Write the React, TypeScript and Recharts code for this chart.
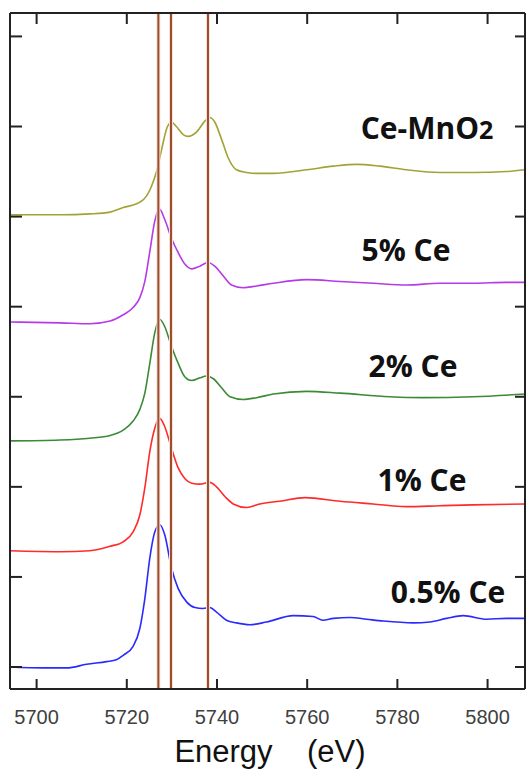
import React from "react";
import { LineChart, Line, XAxis, YAxis, ReferenceLine } from "recharts";

// x axis (eV) and y offsets
const xTicks = [5700, 5720, 5740, 5760, 5780, 5800];
const yTicks = [0, 1, 2, 3, 4, 5, 6, 7];
const peakLines = [5727.0, 5729.8, 5738.0];

// Ce-MnO2
const ceMnO2Energy = [5694.1, 5705.2, 5711.8, 5716.3, 5719.2, 5722.9, 5724.4, 5725.5, 5726.6, 5727.7, 5728.8, 5729.9, 5731.0, 5732.5, 5733.6, 5735.5, 5737.3, 5738.4, 5739.5, 5741.0, 5742.5, 5744.3, 5746.6, 5748.8, 5751.0, 5752.5, 5759.9, 5765.8, 5771.0, 5776.1, 5782.0, 5789.4, 5796.8, 5804.2, 5808.3];
const ceMnO2Signal = [5.02, 5.02, 5.03, 5.05, 5.1, 5.16, 5.23, 5.34, 5.5, 5.74, 5.97, 6.05, 6.0, 5.91, 5.89, 5.94, 6.06, 6.1, 6.05, 5.86, 5.65, 5.52, 5.49, 5.48, 5.48, 5.48, 5.52, 5.56, 5.58, 5.56, 5.52, 5.49, 5.49, 5.5, 5.52];

// 5% Ce
const ce5Energy = [5694.1, 5705.2, 5711.8, 5716.3, 5719.2, 5721.4, 5722.9, 5724.0, 5725.1, 5726.2, 5727.3, 5728.4, 5729.9, 5731.4, 5732.9, 5734.4, 5736.2, 5738.0, 5739.5, 5741.4, 5743.2, 5745.8, 5748.8, 5752.5, 5759.9, 5767.3, 5774.6, 5782.0, 5789.4, 5796.8, 5804.2, 5808.3];
const ce5Signal = [3.83, 3.82, 3.81, 3.84, 3.91, 3.99, 4.1, 4.28, 4.61, 4.95, 5.08, 4.97, 4.76, 4.6, 4.47, 4.42, 4.45, 4.49, 4.45, 4.34, 4.24, 4.21, 4.23, 4.26, 4.3, 4.28, 4.26, 4.24, 4.26, 4.26, 4.27, 4.27];

// 2% Ce
const ce2Energy = [5694.1, 5705.2, 5711.8, 5716.3, 5719.2, 5721.4, 5722.9, 5724.0, 5725.1, 5726.2, 5727.3, 5728.4, 5729.9, 5731.4, 5732.9, 5734.4, 5736.2, 5737.7, 5739.2, 5741.0, 5742.9, 5745.8, 5748.8, 5752.5, 5759.9, 5767.3, 5778.3, 5785.7, 5796.8, 5808.3];
const ce2Signal = [2.51, 2.52, 2.54, 2.57, 2.63, 2.73, 2.86, 3.04, 3.37, 3.71, 3.86, 3.78, 3.56, 3.37, 3.22, 3.18, 3.21, 3.23, 3.2, 3.1, 3.0, 2.97, 2.99, 3.03, 3.06, 3.04, 3.0, 2.99, 3.0, 3.03];

// 1% Ce
const ce1Energy = [5694.1, 5705.2, 5711.8, 5716.3, 5719.2, 5721.4, 5722.9, 5724.0, 5725.1, 5726.2, 5727.3, 5728.4, 5729.9, 5731.4, 5732.9, 5734.4, 5736.2, 5738.4, 5739.9, 5741.8, 5743.6, 5746.6, 5749.5, 5753.9, 5759.5, 5767.3, 5774.6, 5782.0, 5789.4, 5796.8, 5808.3];
const ce1Signal = [1.29, 1.28, 1.29, 1.34, 1.39, 1.5, 1.69, 1.99, 2.39, 2.65, 2.76, 2.67, 2.43, 2.21, 2.09, 2.04, 2.03, 2.05, 2.0, 1.89, 1.81, 1.77, 1.81, 1.84, 1.88, 1.84, 1.81, 1.78, 1.79, 1.8, 1.81];

// 0.5% Ce
const ce05Energy = [5694.1, 5701.5, 5706.7, 5711.1, 5715.5, 5717.7, 5719.2, 5721.4, 5722.9, 5724.0, 5725.1, 5726.2, 5727.3, 5728.4, 5729.9, 5731.4, 5733.3, 5735.1, 5736.9, 5738.4, 5739.9, 5742.1, 5744.3, 5747.3, 5751.0, 5756.9, 5761.3, 5763.5, 5765.8, 5769.5, 5773.2, 5776.9, 5783.5, 5787.2, 5790.9, 5794.6, 5799.8, 5804.2, 5808.3];
const ce05Signal = [0.0, -0.01, -0.01, 0.03, 0.06, 0.08, 0.13, 0.23, 0.43, 0.76, 1.21, 1.5, 1.58, 1.47, 1.1, 0.87, 0.72, 0.66, 0.65, 0.66, 0.61, 0.52, 0.49, 0.47, 0.5, 0.57, 0.56, 0.52, 0.54, 0.55, 0.53, 0.51, 0.49, 0.5, 0.54, 0.57, 0.53, 0.54, 0.54];

const toPoints = (energy: number[], signal: number[]) =>
  energy.map((e, i) => ({ e, v: signal[i] }));

const series = [
  { name: "Ce-MnO2", color: "#a3a235", data: toPoints(ceMnO2Energy, ceMnO2Signal) },
  { name: "5% Ce", color: "#b53ae8", data: toPoints(ce5Energy, ce5Signal) },
  { name: "2% Ce", color: "#3b8a35", data: toPoints(ce2Energy, ce2Signal) },
  { name: "1% Ce", color: "#ff2a2a", data: toPoints(ce1Energy, ce1Signal) },
  { name: "0.5% Ce", color: "#2a2aff", data: toPoints(ce05Energy, ce05Signal) },
];

// label anchors (centre x, baseline y)
const labels = [
  { text: "Ce-MnO", sub: "2", x: 427, y: 139 },
  { text: "5% Ce", x: 406, y: 261 },
  { text: "2% Ce", x: 413, y: 377 },
  { text: "1% Ce", x: 422, y: 491 },
  { text: "0.5% Ce", x: 448, y: 603 },
];

const AXIS = "#222";
const noLabel = () => <g />;

export default function App() {
  return (
    <div style={{ position: "absolute", left: 0, top: 0, width: 526, height: 769, overflow: "hidden", background: "#fff" }}>
      <LineChart width={526} height={769} margin={{ top: 13, right: 1, bottom: 0, left: 10 }}>
        <XAxis
          type="number"
          dataKey="e"
          domain={[5694.1, 5808.3]}
          ticks={xTicks}
          allowDataOverflow
          height={80}
          axisLine={{ stroke: AXIS, strokeWidth: 2 }}
          tickLine={false}
          tickSize={0}
          tickMargin={21}
          tick={{ fontSize: 20, fill: "#404040", fontFamily: "Liberation Sans, Arial, sans-serif" }}
        />
        <XAxis
          xAxisId="bt"
          type="number"
          dataKey="e"
          domain={[5694.1, 5808.3]}
          ticks={xTicks}
          allowDataOverflow
          mirror
          axisLine={false}
          tickSize={10}
          tickLine={{ stroke: AXIS, strokeWidth: 2 }}
          tick={noLabel}
        />
        <XAxis
          xAxisId="top"
          orientation="top"
          type="number"
          dataKey="e"
          domain={[5694.1, 5808.3]}
          ticks={xTicks}
          allowDataOverflow
          mirror
          axisLine={{ stroke: AXIS, strokeWidth: 2 }}
          tickSize={11}
          tickLine={{ stroke: AXIS, strokeWidth: 2 }}
          tick={noLabel}
        />
        <YAxis
          type="number"
          domain={[-0.244, 7.26]}
          ticks={yTicks}
          allowDataOverflow
          mirror
          axisLine={{ stroke: AXIS, strokeWidth: 2 }}
          tickSize={12}
          tickLine={{ stroke: AXIS, strokeWidth: 2 }}
          tick={noLabel}
        />
        <YAxis
          yAxisId="right"
          orientation="right"
          type="number"
          domain={[-0.244, 7.26]}
          ticks={yTicks}
          allowDataOverflow
          mirror
          axisLine={{ stroke: AXIS, strokeWidth: 2 }}
          tickSize={10}
          tickLine={{ stroke: AXIS, strokeWidth: 2 }}
          tick={noLabel}
        />
        {series.map((s) => (
          <Line
            key={s.name}
            data={s.data}
            dataKey="v"
            type="monotone"
            stroke={s.color}
            strokeWidth={1.6}
            dot={false}
            isAnimationActive={false}
          />
        ))}
        {peakLines.map((x) => (
          <ReferenceLine key={"h" + x} x={x} stroke="#f4e2da" strokeWidth={4} />
        ))}
        {peakLines.map((x) => (
          <ReferenceLine key={"c" + x} x={x} stroke="#9c4d2c" strokeWidth={2} />
        ))}
      </LineChart>
      <svg width={526} height={769} style={{ position: "absolute", left: 0, top: 0, pointerEvents: "none" }}>
        {labels.map((l) => (
          <text
            key={l.text}
            x={l.x}
            y={l.y}
            textAnchor="middle"
            fontFamily="Open Sans, sans-serif"
            fontWeight={700}
            fontSize={30}
            fill="#111"
          >
            {l.text}
            {l.sub ? <tspan fontSize={25}>{l.sub}</tspan> : null}
          </text>
        ))}
        <text
          x={270}
          y={762}
          textAnchor="middle"
          fontFamily="Liberation Sans, Arial, sans-serif"
          fontSize={31}
          fill="#111"
          style={{ whiteSpace: "pre" }}
        >
          {"Energy    (eV)"}
        </text>
      </svg>
    </div>
  );
}
